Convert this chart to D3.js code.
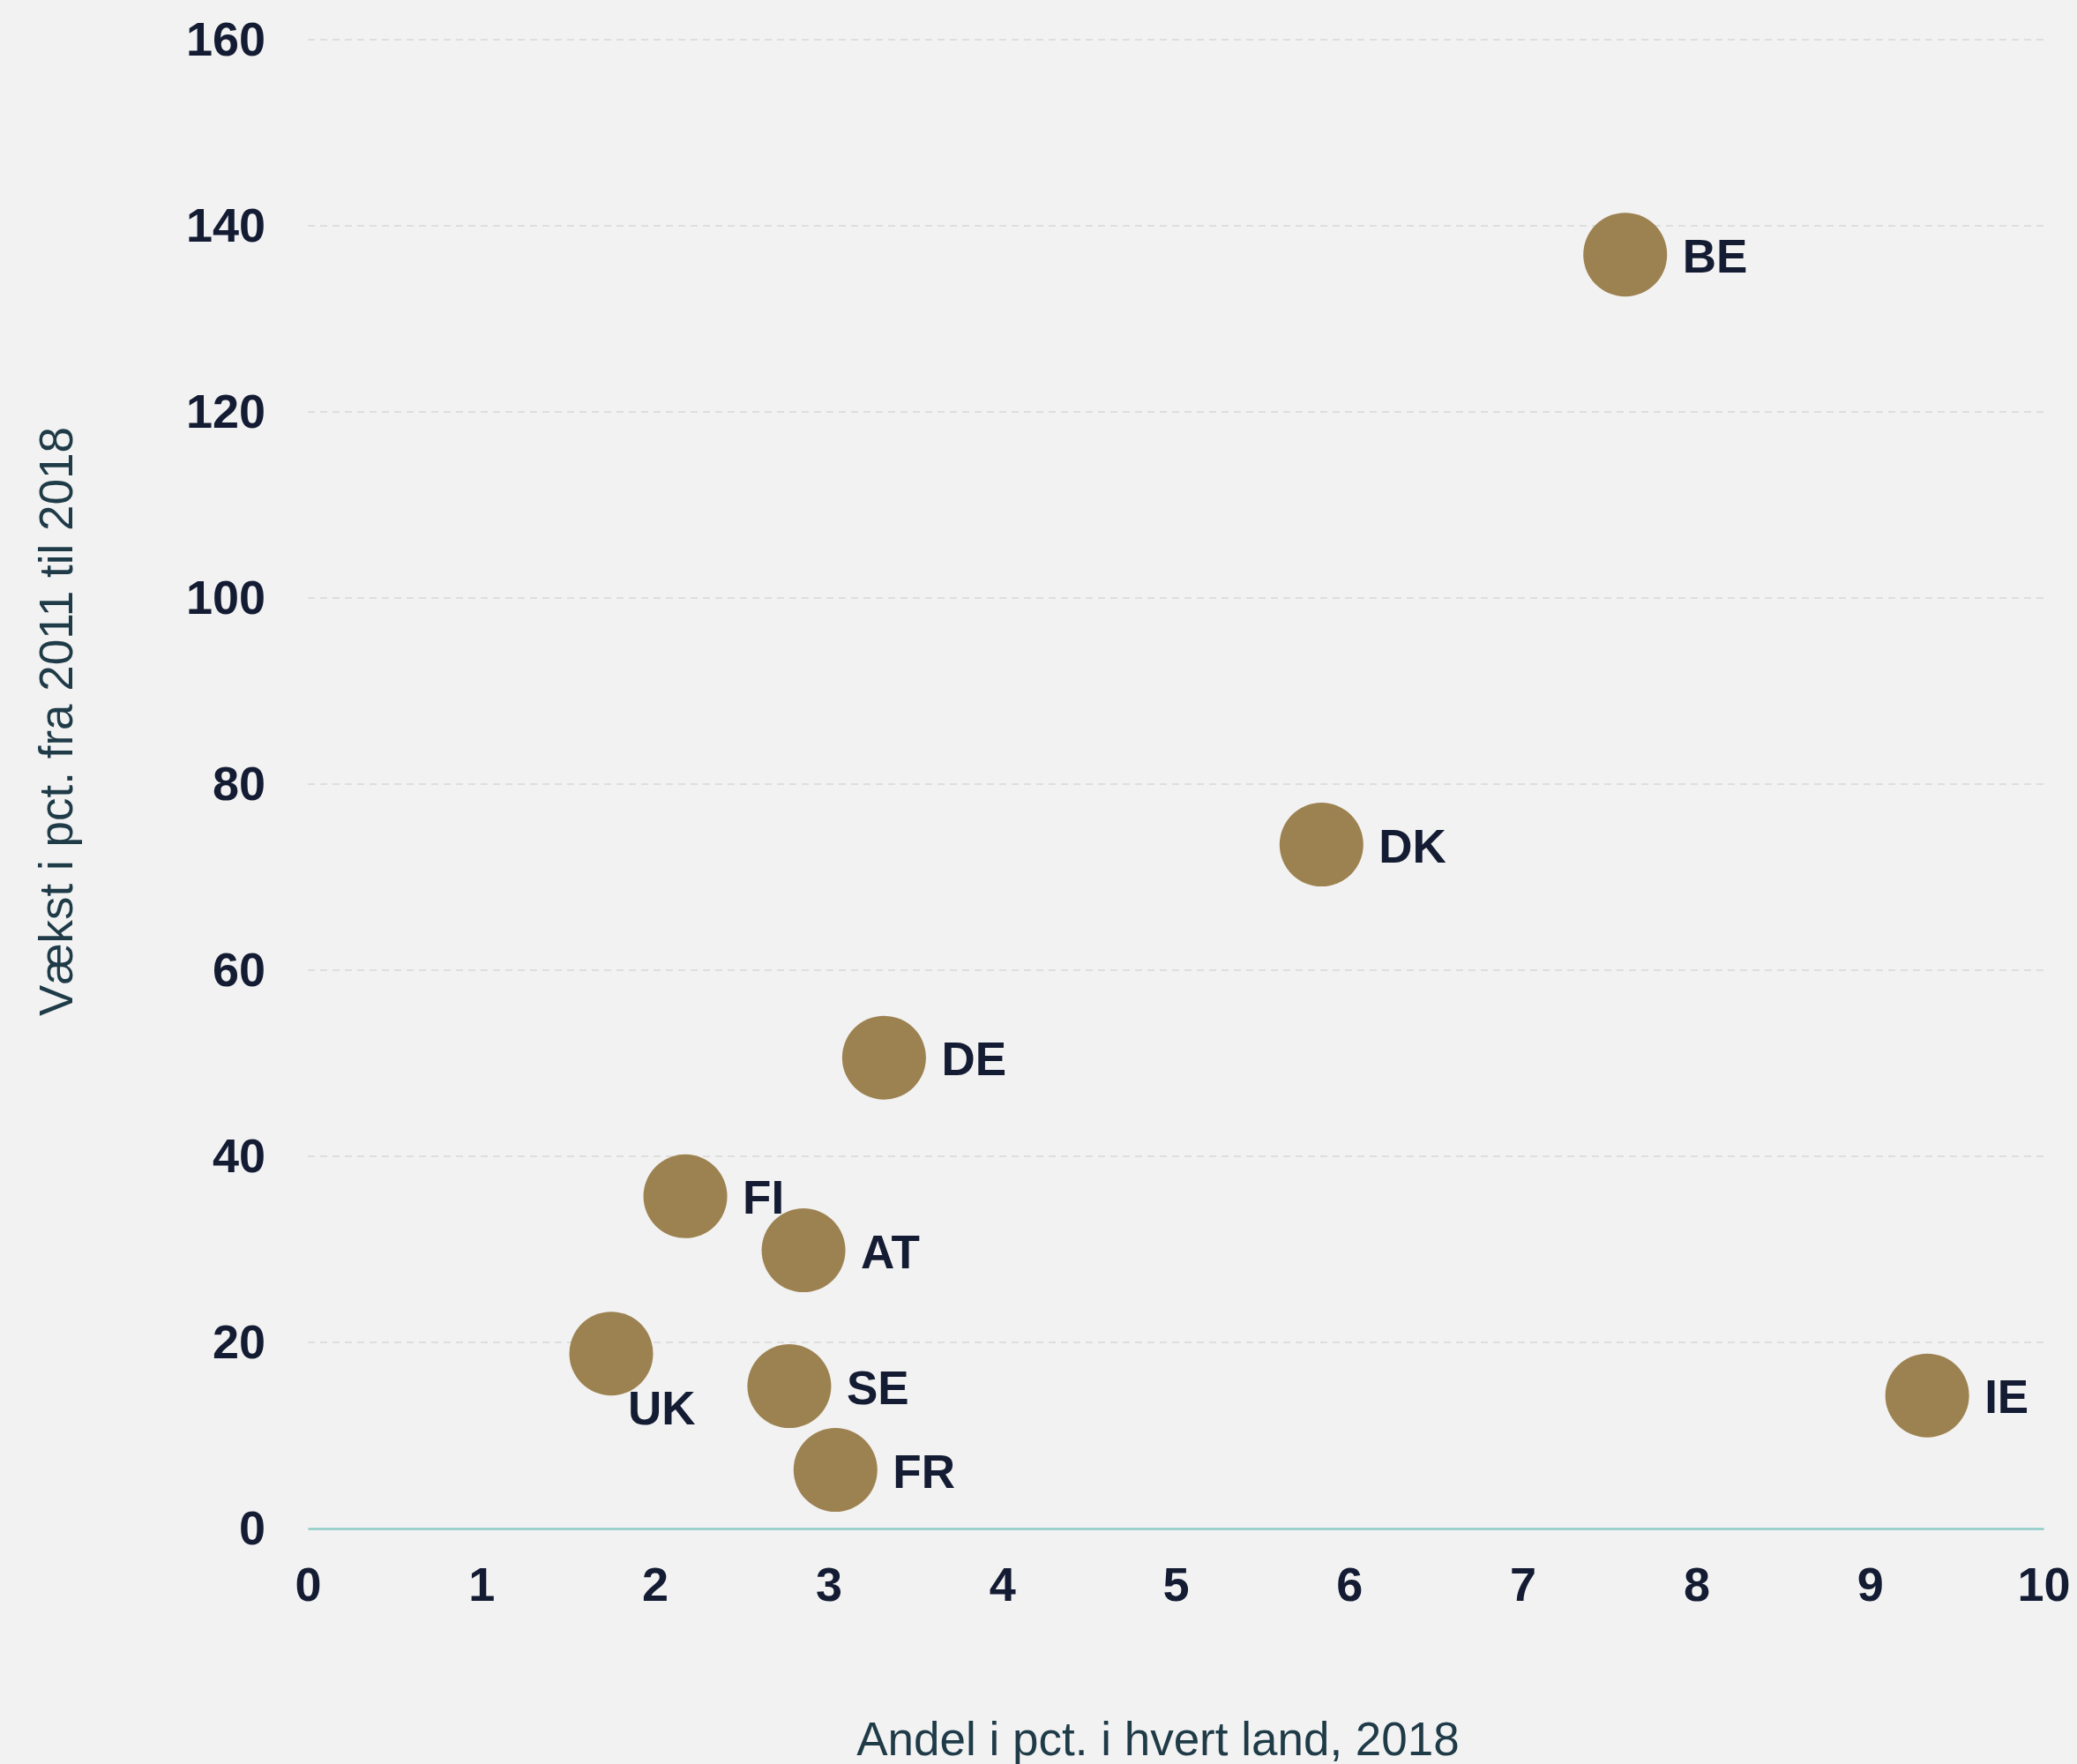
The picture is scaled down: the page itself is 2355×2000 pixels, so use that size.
<!DOCTYPE html>
<html>
<head>
<meta charset="utf-8">
<script src="https://cdn.jsdelivr.net/npm/d3@7"></script>
<style>
  html, body { margin: 0; padding: 0; background: #f2f2f2; }
  svg { display: block; }
</style>
</head>
<body>
<script>
const countries = ["BE", "DK", "DE", "FI", "AT", "UK", "SE", "FR", "IE"];
const shareValues = [7.59, 5.84, 3.32, 2.175, 2.856, 1.748, 2.774, 3.04, 9.33];
const growthValues = [136.9, 73.5, 50.6, 35.7, 29.9, 18.8, 15.3, 6.3, 14.3];
const xTicks = [0, 1, 2, 3, 4, 5, 6, 7, 8, 9, 10];
const yTicks = [0, 20, 40, 60, 80, 100, 120, 140, 160];
const xTitle = "Andel i pct. i hvert land, 2018";
const yTitle = "Vækst i pct. fra 2011 til 2018";
const belowLabels = ["UK"];

(function () {
const W = 2355, H = 2000;
const mLeft = 349, mRight = 2317, mTop = 45, mBottom = 1733;
const font = "'Liberation Sans', Arial, Helvetica, sans-serif";
const textColor = "#141c33";
const dotColor = "#9d8251";

const svg = d3.select("body").append("svg").attr("width", W).attr("height", H)
  .style("background", "#f2f2f2");

const x = d3.scaleLinear().domain([0, 10]).range([mLeft, mRight]);
const y = d3.scaleLinear().domain([0, 160]).range([mBottom, mTop]);

// grid lines
svg.append("g").selectAll("line").data(yTicks.filter(d => d > 0)).join("line")
  .attr("x1", mLeft).attr("x2", mRight)
  .attr("y1", d => y(d)).attr("y2", d => y(d))
  .attr("stroke", "#dedede").attr("stroke-width", 2)
  .attr("stroke-dasharray", "8,6");

// y axis
const yAxis = svg.append("g").attr("transform", `translate(${mLeft},0)`)
  .call(d3.axisLeft(y).tickValues(yTicks).tickSize(0).tickPadding(48));
yAxis.select(".domain").remove();
yAxis.selectAll("text").attr("font-family", font).attr("font-size", 54)
  .attr("font-weight", "bold").attr("fill", textColor);

// x axis
const xAxis = svg.append("g").attr("transform", `translate(0,${mBottom})`)
  .call(d3.axisBottom(x).tickValues(xTicks).tickSize(0).tickPadding(44));
xAxis.select(".domain").attr("stroke", "#8ecbc7").attr("stroke-width", 2.5);
xAxis.selectAll("text").attr("font-family", font).attr("font-size", 54)
  .attr("font-weight", "bold").attr("fill", textColor);

// points
const data = countries.map((c, i) => ({ c, x: shareValues[i], y: growthValues[i] }));
const r = 47.5;
svg.append("g").selectAll("circle").data(data).join("circle")
  .attr("cx", d => x(d.x)).attr("cy", d => y(d.y)).attr("r", r)
  .attr("fill", dotColor);

svg.append("g").selectAll("text").data(data).join("text")
  .attr("x", d => x(d.x) + (belowLabels.includes(d.c) ? 19 : 65))
  .attr("y", d => y(d.y) + (belowLabels.includes(d.c) ? 80 : 20))
  .attr("font-family", font).attr("font-size", 53).attr("font-weight", "bold")
  .attr("fill", textColor)
  .text(d => d.c);

// axis titles
svg.append("text")
  .attr("x", (mLeft + mRight) / 2 - 20).attr("y", 1990)
  .attr("text-anchor", "middle")
  .attr("font-family", font).attr("font-size", 53).attr("fill", "#1f3b48")
  .text(xTitle);

svg.append("text")
  .attr("transform", `translate(82,${818}) rotate(-90)`)
  .attr("text-anchor", "middle")
  .attr("font-family", font).attr("font-size", 53).attr("fill", "#1f3b48")
  .text(yTitle);
})();
</script>
</body>
</html>
